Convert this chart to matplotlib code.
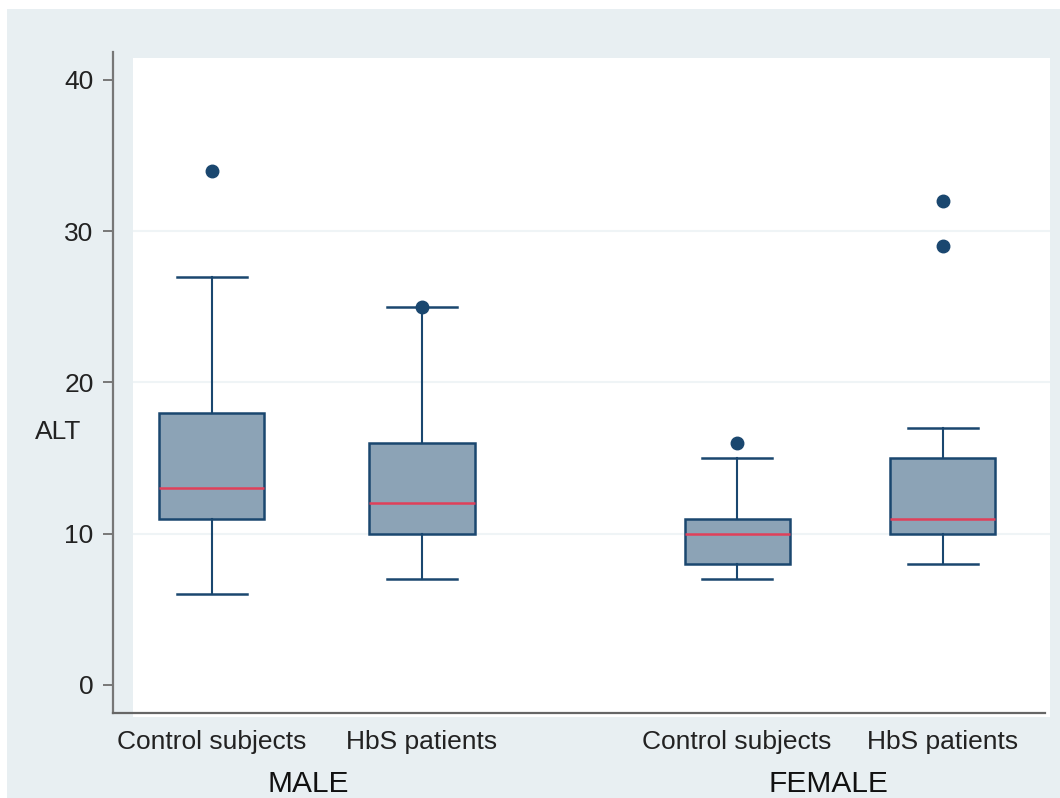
import matplotlib.pyplot as plt
from matplotlib.patches import Rectangle

# box plot summaries
groups = ['MALE', 'FEMALE']
categories = ['Control subjects', 'HbS patients', 'Control subjects', 'HbS patients']
q1 = [11, 10, 8, 10]
medians = [13, 12, 10, 11]
q3 = [18, 16, 11, 15]
whis_lo = [6, 7, 7, 8]
whis_hi = [27, 25, 15, 17]
outliers = [[34], [25], [16], [29, 32]]
yticks = [0, 10, 20, 30, 40]

positions = [1, 2, 3.5, 4.48]
navy = '#1a476f'

plt.rcParams['font.family'] = ['Liberation Sans', 'DejaVu Sans']

fig = plt.figure(figsize=(10.6, 7.98), dpi=100, facecolor='white')
# light background panel
fig.add_artist(Rectangle((7 / 1060, 0), 1, (798 - 9) / 798, transform=fig.transFigure,
                         facecolor='#e8eff2', edgecolor='none', zorder=-5))

ax = fig.add_axes([133 / 1060, 81 / 798, 917 / 1060, 659 / 798])
ax.set_facecolor('white')

stats = []
for i in range(len(categories)):
    stats.append(dict(med=medians[i], q1=q1[i], q3=q3[i], whislo=whis_lo[i],
                      whishi=whis_hi[i], fliers=outliers[i]))

ax.bxp(stats, positions=positions, widths=0.5, capwidths=0.333, patch_artist=True,
       boxprops=dict(facecolor='#8ca3b6', edgecolor=navy, linewidth=1.8),
       medianprops=dict(color='#e0405a', linewidth=1.8),
       whiskerprops=dict(color=navy, linewidth=1.5),
       capprops=dict(color=navy, linewidth=1.8),
       flierprops=dict(marker='o', markerfacecolor=navy, markeredgecolor=navy, markersize=9),
       zorder=3)

for v in yticks[1:-1]:
    ax.axhline(v, color='#eff4f6', linewidth=1.5, zorder=1)

ax.set_xlim(0.624, 4.99)
ax.set_ylim(-2.12, 41.45)

ax.spines['top'].set_visible(False)
ax.spines['right'].set_visible(False)
ax.spines['left'].set_position(('outward', 14.4))
ax.spines['left'].set_bounds(-1.85, 41.85)
ax.spines['left'].set_color('#777777')
ax.spines['left'].set_linewidth(1.6)
ax.spines['bottom'].set_position(('data', -1.85))
ax.spines['bottom'].set_bounds(0.529, 4.967)
ax.spines['bottom'].set_color('#666666')
ax.spines['bottom'].set_linewidth(1.6)

ax.set_yticks(yticks)
ax.set_yticklabels([str(v) for v in yticks], fontsize=19, color='#222222')
ax.tick_params(axis='y', length=7, width=1.4, color='#777777', pad=7)

ax.set_xticks(positions)
ax.set_xticklabels(categories, fontsize=19, color='#222222')
ax.tick_params(axis='x', length=0, pad=12)

ax.text(-0.107, 16.7, 'ALT', transform=ax.get_yaxis_transform(), fontsize=19,
        color='#222222', ha='left', va='center')

ax.text(1.457, -6.55, groups[0], fontsize=21.5, color='#111111', ha='center', va='center',
        clip_on=False)
ax.text(3.933, -6.55, groups[1], fontsize=21.5, color='#111111', ha='center', va='center',
        clip_on=False)

fig.savefig('out.png', dpi=100, facecolor=fig.get_facecolor())
